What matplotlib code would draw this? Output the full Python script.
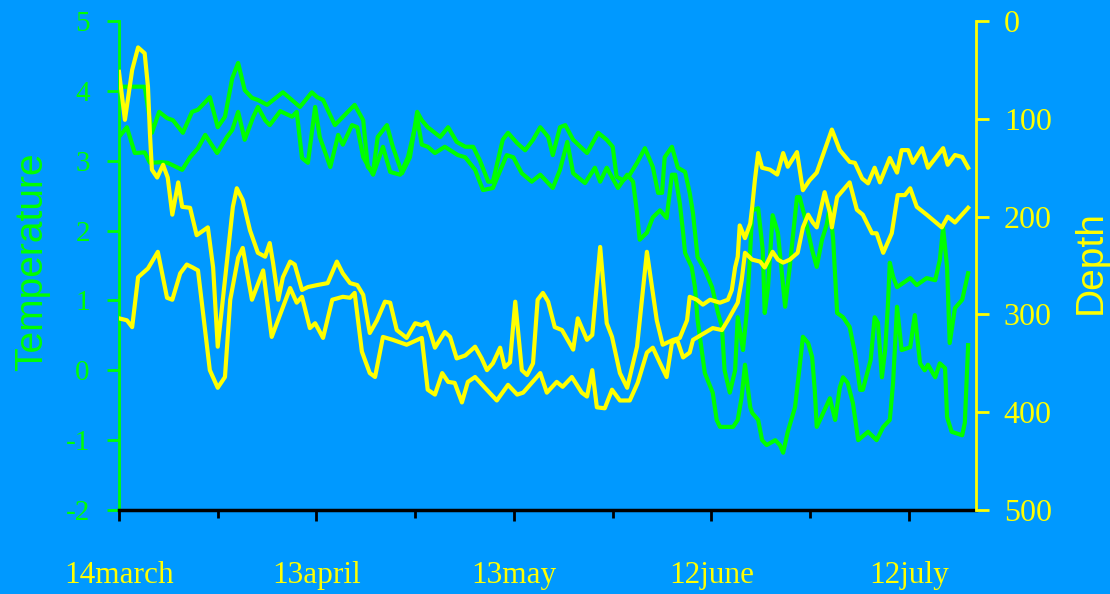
import matplotlib
matplotlib.use("Agg")
import matplotlib.pyplot as plt
from matplotlib.ticker import MultipleLocator, FixedLocator

plt.rcParams["axes.unicode_minus"] = False

# days counted from 14 March
temp_a_day = [0, 3.9, 5.0, 6.1, 7.3, 8.2, 9.7, 11.1, 12.0, 13.8, 15.0, 16.1, 17.2, 18.1, 19.1,
              20.2, 21.1, 22.5, 24.9, 27.5, 29.3, 30.1, 31.0, 32.8, 35.8, 37.1, 37.8, 38.6,
              39.3, 40.7, 41.6, 43.0, 44.2, 45.3, 46.0, 46.9, 48.8, 50.0, 51.3, 52.6, 53.8,
              54.8, 56.1, 56.8, 58.3, 59.1, 60.5, 61.7, 62.9, 64.0, 65.2, 65.9, 67.0, 67.8,
              69.0, 71.1, 72.8, 74.1, 75.0, 75.6, 76.6, 77.6, 78.7, 79.9, 81.1, 81.9, 82.5,
              82.9, 84.0, 84.9, 86.0, 86.7, 87.2, 87.9, 89.0, 90.1, 91.0, 91.6, 92.0, 92.8,
              93.6, 94.0, 94.8, 95.4, 95.9, 96.2, 97.1, 97.8, 98.1, 98.6, 99.3, 100.1, 100.9,
              101.2, 101.9, 103.0, 103.4, 104.2, 105.3, 106.0, 106.8, 107.5, 108.0, 108.5,
              109.1, 110.0, 111.0, 111.8, 112.6, 113.0, 114.2, 114.8, 115.3, 115.9, 116.4,
              116.8, 117.1, 117.6, 118.2, 120.2, 121.2, 122.7, 124.0, 124.7, 125.2, 125.8,
              126.2, 127.0, 128.1, 129.0]
temp_a = [4.06, 4.06, 3.40, 3.70, 3.61, 3.58, 3.40, 3.70, 3.73, 3.91, 3.48, 3.63, 4.18, 4.40, 4.01,
          3.90, 3.87, 3.80, 3.98, 3.77, 3.98, 3.91, 3.87, 3.51, 3.80, 3.58, 2.91, 2.84,
          3.34, 3.51, 3.20, 2.82, 3.05, 3.70, 3.58, 3.48, 3.34, 3.48, 3.27, 3.20, 3.20,
          3.01, 2.70, 2.70, 3.30, 3.40, 3.25, 3.15, 3.30, 3.48, 3.34, 3.08, 3.48, 3.51,
          3.30, 3.11, 3.40, 3.30, 3.20, 2.77, 2.72, 2.80, 2.97, 3.18, 2.91, 2.54, 2.54,
          3.05, 3.20, 2.90, 2.84, 2.54, 2.25, 1.62, 1.44, 1.19, 0.82, 0.62, 0.00, -0.32,
          0.00, 0.76, 0.29, 0.86, 1.72, 2.29, 2.32, 1.72, 0.82, 1.19, 2.22, 1.97, 1.19,
          0.91, 1.48, 2.48, 2.48, 2.19, 1.72, 1.48, 1.87, 2.08, 2.34, 1.87,
          0.82, 0.76, 0.62, 0.25, -0.28, -0.28, 0.15, 0.76, 0.68, -0.10, 0.29,
          0.91, 1.54, 1.34, 1.19, 1.32, 1.22, 1.32, 1.29, 1.58, 2.04, 1.48,
          0.39, 0.89, 1.01, 1.39]

temp_b_day = [0, 1.2, 2.4, 3.9, 4.7, 6.5, 7.4, 9.6, 10.8, 12.0, 13.1, 14.9, 16.4, 17.2, 18.1,
              19.1, 20.4, 21.1, 22.2, 22.9, 24.5, 26.3, 27.0, 27.8, 28.7, 29.8, 30.5, 32.1,
              33.3, 34.0, 35.4, 36.2, 37.1, 38.6, 40.1, 41.2, 42.7, 43.9, 45.3, 46.0, 46.9,
              48.0, 49.5, 51.5, 52.6, 54.1, 55.3, 56.8, 58.9, 59.9, 61.2, 62.7, 64.0, 65.9,
              67.0, 68.1, 69.0, 70.8, 72.3, 73.1, 74.1, 75.8, 77.2, 78.1, 78.7, 79.1, 80.2,
              81.1, 82.2, 83.2, 84.0, 84.5, 85.2, 85.7, 86.0, 87.0, 87.5, 87.9, 89.0, 90.2,
              90.8, 91.3, 93.3, 94.0, 94.6, 95.1, 95.9, 96.2, 97.1, 97.7, 98.4, 99.7, 100.4,
              100.9, 101.6, 102.7, 103.4, 103.9, 104.7, 105.3, 105.7, 106.0, 106.5, 108.0,
              108.8, 109.5, 110.0, 110.7, 111.5, 112.3, 113.8, 115.1, 116.1, 117.1, 117.6,
              118.2, 118.9, 120.2, 120.9, 121.7, 122.4, 122.9, 124.0, 124.7, 125.5, 125.8,
              126.5, 128.1, 128.5, 129.0]
temp_b = [3.34, 3.48, 3.11, 3.12, 2.97, 2.98, 2.97, 2.87, 3.05, 3.18, 3.37, 3.11, 3.34, 3.44, 3.70,
          3.30, 3.63, 3.77, 3.58, 3.51, 3.71, 3.63, 3.70, 3.04, 2.97, 3.77, 3.34, 2.91,
          3.37, 3.23, 3.51, 3.48, 3.05, 2.80, 3.20, 2.84, 2.80, 3.05, 3.61, 3.23, 3.20,
          3.11, 3.20, 3.08, 3.05, 2.87, 2.58, 2.61, 3.08, 3.05, 2.82, 2.70, 2.80, 2.61,
          2.87, 3.27, 2.82, 2.68, 2.90, 2.70, 2.90, 2.61, 2.80, 2.70, 2.25, 1.87, 1.97,
          2.19, 2.29, 2.18, 2.80, 2.80, 2.39, 1.97, 1.68, 1.48, 1.19, 0.72, -0.04, -0.32,
          -0.71, -0.81, -0.81, -0.71, -0.38, 0.08, -0.53, -0.61, -0.71, -1.00, -1.07, -1.00, -1.07,
          -1.18, -0.88, -0.53, 0.05, 0.48, 0.39, 0.19, -0.28, -0.81, -0.71, -0.40,
          -0.71, -0.25, -0.10, -0.18, -0.47, -1.00, -0.88, -1.00, -0.81, -0.71, -0.18,
          0.91, 0.29, 0.33, 0.79, 0.10, 0.00, 0.08, -0.10, 0.10, 0.03, -0.67,
          -0.88, -0.93, -0.75, 0.36]

depth_a_day = [0, 0.9, 2.0, 2.9, 3.9, 4.4, 4.7, 5.0, 5.8, 6.7, 7.4, 8.1, 9.0, 9.6, 10.8, 11.8,
               13.5, 14.3, 15.0, 16.6, 17.3, 17.9, 18.8, 19.9, 21.1, 22.2, 22.9, 23.4, 24.2,
               24.9, 26.0, 26.7, 27.8, 28.7, 30.1, 31.7, 33.1, 34.0, 35.1, 36.2, 37.1, 38.1,
               39.2, 40.4, 41.2, 42.2, 43.7, 45.0, 46.0, 46.8, 48.0, 49.5, 50.3, 51.3, 52.6,
               54.1, 55.1, 55.9, 56.8, 57.9, 58.6, 59.4, 60.2, 61.2, 62.0, 62.9, 63.6, 64.4,
               65.2, 66.2, 67.3, 69.0, 69.7, 71.1, 71.9, 73.1, 74.1, 74.9, 76.1, 77.2, 78.7,
               80.2, 81.7, 82.6, 84.2, 85.2, 86.3, 86.7, 87.8, 88.7, 89.8, 91.3, 92.5, 93.1,
               93.6, 94.0, 94.3, 95.1, 95.9, 96.2, 96.6, 97.1, 97.7, 98.9, 100.0, 100.9, 101.6,
               103.0, 103.9, 104.9, 106.0, 108.3, 109.5, 111.0, 111.8, 112.9, 113.8, 114.8,
               115.6, 117.1, 118.2, 118.9, 119.9, 120.6, 122.0, 122.9, 125.2, 125.9, 127.0,
               128.1, 129.0]
depth_a = [52, 101, 50, 27, 33, 67, 115, 152, 160, 147, 160, 198, 165, 190, 191, 219,
           211, 252, 333, 234, 190, 171, 183, 214, 237, 241, 227, 247, 285,
           262, 246, 249, 275, 272, 270, 268, 246, 258, 268, 270, 280, 319,
           306, 287, 288, 316, 324, 309, 311, 308, 334, 318, 323, 345, 342,
           333, 345, 357, 350, 334, 354, 349, 287, 357, 362, 350, 285, 278,
           287, 313, 316, 336, 304, 326, 321, 231, 309, 323, 360, 375, 333,
           236, 306, 331, 326, 324, 306, 282, 285, 290, 285, 288, 285, 275,
           252, 241, 209, 222, 207, 190, 163, 135, 150, 152, 157, 135, 149,
           134, 173, 163, 155, 111, 132, 144, 145, 161, 166, 150,
           165, 140, 155, 132, 132, 145, 130, 150, 130, 147, 137,
           139, 150]

depth_b_day = [0, 1.2, 2.0, 2.9, 4.4, 5.9, 7.3, 8.1, 9.3, 10.3, 11.2, 12.0, 13.8, 15.0, 16.1,
               16.9, 18.1, 18.8, 20.2, 21.9, 23.2, 26.0, 27.0, 27.8, 29.0, 29.8, 31.0, 32.4,
               34.0, 35.1, 35.8, 36.9, 38.1, 38.9, 40.1, 41.6, 43.7, 46.0, 46.9, 48.0, 49.1,
               50.0, 51.0, 52.1, 53.0, 54.1, 55.6, 57.4, 59.1, 60.5, 61.4, 64.0, 65.0, 66.5,
               67.4, 68.8, 70.3, 71.1, 71.9, 72.6, 73.8, 74.9, 76.1, 77.6, 78.8, 80.2, 81.1,
               82.2, 83.2, 84.0, 84.8, 85.7, 86.7, 87.2, 90.2, 91.6, 92.5, 94.0, 94.6, 95.1,
               96.2, 97.4, 98.1, 99.3, 100.1, 100.9, 101.9, 103.1, 103.9, 104.7, 105.4, 106.0,
               107.2, 108.0, 108.3, 109.1, 111.0, 112.1, 113.0, 114.4, 115.1, 116.1, 117.4,
               118.3, 119.4, 120.2, 121.2, 122.7, 125.0, 125.9, 127.0, 129.0]
depth_b = [304, 306, 313, 262, 253, 236, 283, 285, 258, 249, 252, 255, 357, 375, 364,
           285, 242, 232, 285, 255, 323, 273, 288, 282, 314, 309, 324, 285,
           282, 283, 278, 338, 360, 364, 323, 326, 331, 324, 377, 382, 360,
           369, 370, 390, 369, 364, 375, 388, 372, 382, 380, 360, 380, 369,
           374, 364, 380, 384, 357, 395, 396, 377, 388, 388, 370, 339, 334,
           350, 364, 329, 326, 344, 339, 326, 314, 316, 306, 288, 265, 237,
           244, 246, 252, 236, 244, 247, 244, 237, 211, 198, 206, 211,
           175, 196, 211, 180, 165, 193, 198, 217, 217, 237, 217,
           178, 178, 171, 190, 198, 211, 200, 206, 191]

date_ticks = [0, 30, 60, 90, 120]
date_labels = ["14march", "13april", "13may", "12june", "12july"]

bg = "#0099ff"
green = "#00ff00"
yellow = "#ffff00"
serif = "Liberation Serif"
sans = "Liberation Sans"
lw = 3.0

fig = plt.figure(figsize=(11.1, 5.94), dpi=100, facecolor=bg)
ax = fig.add_axes([0.1072, 0.1414, 0.7721, 0.8232])
ax.set_facecolor(bg)
ax2 = ax.twinx()

ax.plot(temp_a_day, temp_a, color=green, lw=lw, solid_joinstyle="round")
ax.plot(temp_b_day, temp_b, color=green, lw=lw, solid_joinstyle="round")
ax2.plot(depth_a_day, depth_a, color=yellow, lw=lw, solid_joinstyle="round")
ax2.plot(depth_b_day, depth_b, color=yellow, lw=lw, solid_joinstyle="round")

ax.set_xlim(0, 130.2)
ax.set_ylim(-2, 5)
ax2.set_ylim(500, 0)

# x axis: black, labels far below the line
ax.xaxis.set_major_locator(FixedLocator(date_ticks))
ax.xaxis.set_minor_locator(FixedLocator([15, 45, 75, 105]))
ax.set_xticklabels(date_labels, fontfamily=serif, fontsize=22.5, color=yellow)
ax.tick_params(axis="x", which="major", direction="out", length=8, width=2, color="black", pad=29)
ax.tick_params(axis="x", which="minor", direction="out", length=6, width=2, color="black")

# temperature axis (left)
ax.yaxis.set_major_locator(MultipleLocator(1))
ax.tick_params(axis="y", direction="out", length=9, width=2, color=green, labelcolor=green,
               labelsize=21, pad=12)
for t in ax.get_yticklabels():
    t.set_fontfamily(serif)
ax.set_ylabel("Temperature", fontfamily=sans, fontsize=28, color=green)
ax.yaxis.set_label_coords(-0.08, 0.507)

# depth axis (right)
ax2.yaxis.set_major_locator(MultipleLocator(100))
ax2.tick_params(axis="y", direction="out", length=9, width=2, color=yellow, labelcolor=yellow,
                labelsize=23, pad=11)
for t in ax2.get_yticklabels():
    t.set_fontfamily(serif)
ax2.set_ylabel("Depth", fontfamily=sans, fontsize=28, color=yellow)
ax2.yaxis.set_label_coords(1.113, 0.507)

for s in ["top", "right"]:
    ax.spines[s].set_visible(False)
for s in ["top", "left", "bottom"]:
    ax2.spines[s].set_visible(False)
ax.spines["left"].set_color(green)
ax.spines["left"].set_linewidth(2)
ax.spines["bottom"].set_color("black")
ax.spines["bottom"].set_linewidth(2.5)
ax2.spines["right"].set_color(yellow)
ax2.spines["right"].set_linewidth(2)

fig.savefig("out.png", dpi=100, facecolor=bg)
